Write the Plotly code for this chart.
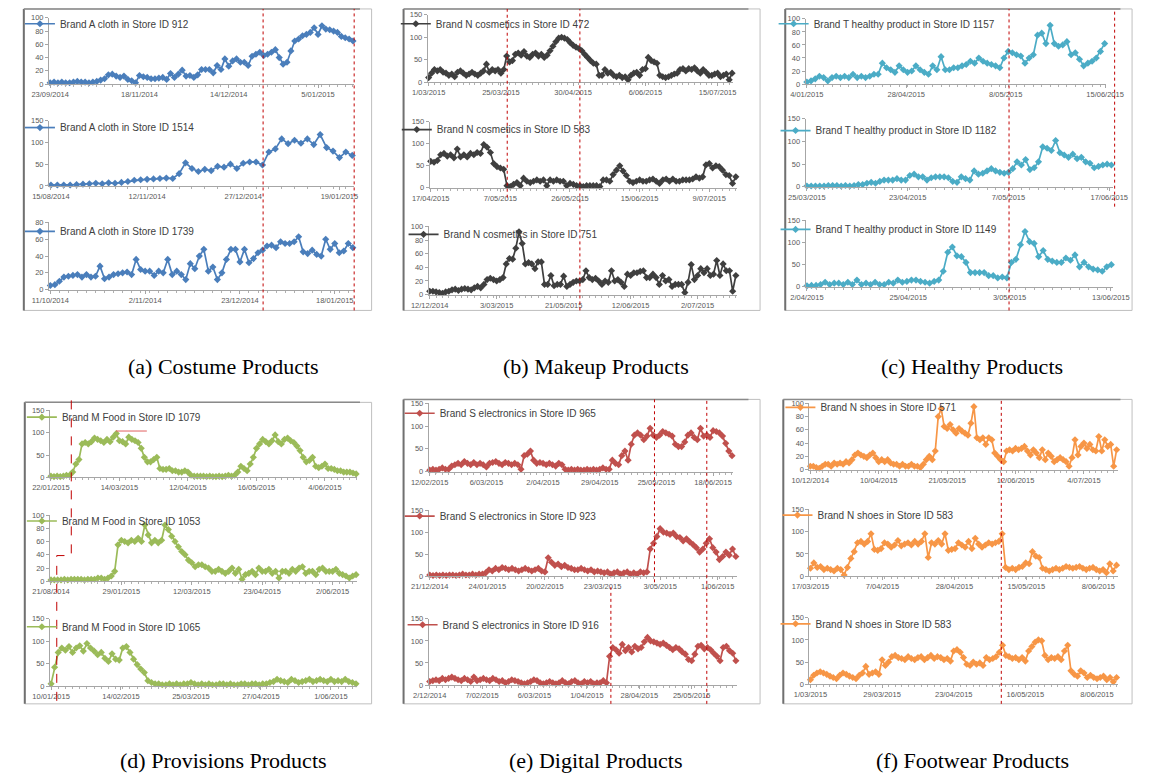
import plotly.graph_objects as go

W, H = 1152, 782

# ---------------- (a) Costume products ----------------
cloth_912 = [2, 3, 2, 3, 2, 2, 3, 4, 3, 3, 2, 3, 4, 6, 8, 14, 15, 12, 10, 12, 7, 5, 2, 13, 11, 10, 8, 8, 9, 10,
             7, 16, 10, 15, 21, 12, 13, 10, 14, 22, 22, 22, 17, 28, 22, 38, 27, 35, 38, 33, 33, 28, 42, 45, 48,
             43, 45, 48, 52, 40, 30, 33, 50, 65, 68, 73, 75, 78, 85, 75, 88, 83, 82, 80, 78, 72, 70, 68, 65]
cloth_912_dates = ["23/09/2014", "18/11/2014", "14/12/2014", "5/01/2015"]

cloth_1514 = [2, 2, 2, 2, 3, 4, 5, 6, 5, 7, 6, 8, 10, 13, 14, 15, 16, 17, 18, 17, 28, 53, 40, 33, 38, 35, 45, 43,
              50, 40, 52, 55, 55, 48, 78, 85, 108, 97, 105, 98, 108, 95, 118, 88, 80, 65, 78, 70]
cloth_1514_dates = ["15/08/2014", "12/11/2014", "27/12/2014", "19/01/2015"]

cloth_1739 = [5, 6, 10, 15, 16, 17, 18, 15, 18, 15, 16, 28, 13, 15, 18, 19, 20, 21, 18, 36, 24, 22, 22, 17, 22, 20,
              36, 18, 22, 18, 12, 31, 25, 40, 48, 22, 27, 12, 20, 36, 48, 48, 33, 48, 32, 37, 44, 47, 52, 53, 50,
              57, 55, 55, 57, 63, 45, 43, 47, 42, 40, 60, 48, 55, 44, 46, 55, 50]
cloth_1739_dates = ["11/10/2014", "2/11/2014", "23/12/2014", "18/01/2015"]

# ---------------- (b) Makeup products ----------------
cosmetics_472 = [10, 20, 28, 25, 28, 22, 20, 15, 18, 12, 22, 25, 20, 15, 18, 22, 18, 15, 20, 25, 40, 22, 28, 25, 28,
                 20, 28, 58, 45, 48, 62, 65, 60, 68, 58, 55, 62, 65, 58, 62, 55, 60, 70, 80, 90, 98, 100, 98, 95,
                 88, 82, 78, 75, 70, 62, 55, 48, 42, 40, 15, 15, 28, 20, 22, 15, 12, 15, 10, 12, 5, 15, 20, 22, 15,
                 28, 30, 55, 48, 45, 42, 15, 12, 10, 12, 15, 18, 20, 28, 30, 25, 30, 28, 32, 25, 20, 28, 22, 15, 15,
                 18, 20, 12, 15, 18, 5, 20]
cosmetics_472_dates = ["1/03/2015", "25/03/2015", "30/04/2015", "6/06/2015", "15/07/2015"]

cosmetics_583 = [60, 58, 62, 75, 78, 72, 75, 68, 88, 70, 75, 70, 78, 75, 80, 78, 98, 92, 80, 55, 48, 45, 42, 5, 3, 8,
                 12, 5, 22, 15, 12, 15, 18, 15, 18, 5, 18, 15, 18, 15, 15, 5, 10, 8, 5, 5, 3, 5, 5, 5, 5, 3, 18, 18,
                 15, 30, 40, 50, 38, 28, 15, 12, 15, 18, 15, 15, 18, 20, 15, 10, 18, 20, 15, 20, 15, 15, 18, 18, 18,
                 20, 25, 22, 25, 52, 55, 45, 50, 48, 40, 30, 28, 10, 25]
cosmetics_583_dates = ["17/04/2015", "7/05/2015", "26/05/2015", "15/06/2015", "9/07/2015"]

cosmetics_751 = [5, 5, 4, 3, 2, 4, 5, 7, 8, 6, 8, 9, 8, 7, 10, 12, 10, 15, 22, 24, 22, 20, 22, 25, 45, 53, 52, 68,
                 92, 75, 45, 47, 45, 38, 48, 48, 15, 15, 28, 13, 15, 15, 27, 12, 15, 18, 20, 20, 22, 35, 25, 22, 24,
                 20, 15, 20, 18, 35, 20, 22, 18, 12, 30, 28, 32, 32, 34, 35, 25, 25, 30, 25, 15, 28, 20, 22, 12, 15,
                 15, 15, 3, 18, 44, 22, 28, 38, 32, 38, 28, 30, 50, 28, 45, 35, 35, 5, 28]
cosmetics_751_dates = ["12/12/2014", "3/03/2015", "21/05/2015", "12/06/2015", "2/07/2015"]

# ---------------- (c) Healthy products ----------------
healthy_1157 = [3, 5, 8, 12, 10, 5, 10, 12, 10, 12, 10, 15, 10, 12, 10, 12, 15, 15, 32, 25, 22, 18, 28, 22, 18, 20,
                28, 22, 18, 15, 28, 22, 42, 22, 22, 25, 25, 28, 30, 35, 32, 40, 35, 32, 30, 28, 25, 40, 50, 48, 45,
                43, 32, 40, 45, 75, 78, 62, 90, 62, 58, 60, 65, 45, 48, 38, 28, 32, 35, 40, 50, 62]
healthy_1157_dates = ["4/01/2015", "28/04/2015", "8/05/2015", "15/06/2015"]

healthy_1182 = [2, 2, 2, 2, 2, 3, 3, 3, 2, 3, 2, 3, 5, 5, 8, 10, 8, 12, 15, 15, 15, 18, 15, 15, 25, 28, 22, 22, 15,
                20, 22, 22, 22, 20, 12, 10, 22, 18, 15, 35, 28, 30, 35, 40, 35, 32, 30, 32, 40, 55, 48, 60, 38, 42,
                55, 88, 85, 80, 102, 75, 70, 65, 72, 62, 65, 55, 52, 42, 45, 48, 50, 48]
healthy_1182_dates = ["25/03/2015", "23/04/2015", "7/05/2015", "17/06/2015"]

healthy_1149 = [2, 3, 3, 5, 10, 5, 8, 8, 5, 10, 5, 15, 5, 8, 5, 10, 5, 5, 10, 8, 15, 10, 12, 15, 15, 12, 10, 8, 12,
                15, 35, 78, 90, 70, 68, 55, 32, 32, 32, 32, 25, 25, 20, 22, 20, 55, 62, 95, 125, 102, 98, 68, 82,
                62, 58, 55, 55, 65, 60, 72, 45, 55, 45, 40, 38, 35, 45, 50]
healthy_1149_dates = ["2/04/2015", "25/04/2015", "3/05/2015", "13/06/2015"]

# ---------------- (d) Provisions products ----------------
food_1079 = [3, 2, 3, 2, 3, 5, 5, 12, 30, 40, 75, 78, 75, 80, 88, 85, 82, 78, 85, 80, 90, 98, 82, 80, 75, 90, 85, 82,
             78, 65, 45, 35, 35, 40, 45, 20, 18, 18, 20, 15, 15, 12, 12, 15, 12, 5, 3, 3, 3, 3, 2, 3, 2, 2, 3, 2, 3,
             5, 3, 5, 12, 25, 20, 15, 30, 45, 65, 75, 85, 80, 75, 82, 95, 80, 75, 85, 88, 82, 78, 70, 60, 45, 35,
             38, 45, 25, 22, 25, 30, 20, 20, 18, 15, 15, 12, 12, 12, 10, 8]
food_1079_dates = ["22/01/2015", "14/03/2015", "12/04/2015", "16/05/2015", "4/06/2015"]

food_1053 = [2, 2, 2, 2, 3, 2, 3, 3, 3, 3, 2, 3, 3, 3, 5, 5, 3, 5, 8, 15, 55, 62, 60, 58, 62, 60, 65, 60, 85, 70, 58,
             62, 58, 62, 85, 78, 68, 60, 52, 45, 40, 32, 28, 22, 25, 25, 22, 20, 15, 15, 18, 15, 12, 15, 20, 12, 18,
             3, 10, 12, 15, 10, 20, 15, 15, 18, 12, 15, 5, 15, 15, 12, 18, 15, 20, 22, 12, 15, 15, 10, 18, 20, 15,
             15, 15, 18, 12, 10, 8, 5, 8, 10]
food_1053_dates = ["21/08/2014", "29/01/2015", "12/03/2015", "23/04/2015", "2/06/2015"]

food_1065 = [5, 42, 75, 85, 80, 88, 75, 85, 90, 78, 95, 85, 78, 70, 75, 62, 55, 72, 60, 58, 85, 88, 75, 60, 48, 38,
             30, 12, 8, 5, 5, 3, 3, 5, 3, 5, 3, 5, 5, 8, 5, 3, 5, 3, 5, 3, 3, 5, 5, 3, 5, 3, 3, 5, 5, 3, 5, 5, 3, 5,
             5, 8, 10, 15, 12, 10, 8, 15, 12, 8, 10, 12, 15, 10, 12, 15, 12, 10, 15, 10, 12, 10, 15, 10, 8, 5]
food_1065_dates = ["10/01/2015", "14/02/2015", "25/03/2015", "27/04/2015", "1/06/2015"]

# ---------------- (e) Digital products ----------------
electronics_965 = [3, 5, 3, 5, 8, 5, 5, 12, 15, 18, 15, 22, 18, 15, 20, 15, 18, 15, 10, 18, 20, 22, 18, 15, 20, 18,
                   15, 18, 15, 5, 35, 38, 45, 25, 18, 20, 18, 15, 18, 15, 12, 18, 15, 5, 3, 5, 3, 5, 3, 3, 5, 3, 5,
                   3, 5, 8, 5, 5, 25, 18, 15, 35, 45, 25, 60, 80, 85, 80, 70, 78, 95, 80, 75, 80, 88, 85, 82, 78, 60,
                   55, 55, 65, 80, 85, 75, 70, 95, 78, 80, 75, 90, 88, 85, 78, 62, 45, 35]
electronics_965_dates = ["12/02/2015", "6/03/2015", "2/04/2015", "29/04/2015", "25/05/2015", "18/06/2015"]

electronics_923 = [3, 2, 3, 2, 3, 2, 3, 3, 2, 3, 5, 3, 3, 5, 3, 5, 5, 8, 15, 12, 18, 15, 20, 18, 15, 18, 15, 12, 15,
                   18, 15, 12, 15, 18, 12, 10, 42, 32, 25, 28, 22, 25, 20, 18, 15, 15, 18, 15, 12, 15, 10, 12, 10,
                   8, 10, 5, 8, 10, 5, 8, 10, 5, 8, 5, 10, 8, 10, 62, 75, 90, 108, 100, 98, 95, 98, 90, 88, 80, 85,
                   78, 72, 65, 55, 62, 75, 85, 65, 55, 38, 45, 55, 48, 62, 45]
electronics_923_dates = ["21/12/2014", "24/01/2015", "20/02/2015", "23/03/2015", "3/05/2015", "1/06/2015"]

electronics_916 = [8, 10, 12, 10, 15, 12, 15, 18, 15, 12, 10, 15, 12, 8, 18, 10, 12, 15, 12, 10, 15, 12, 8, 10, 5, 8,
                   12, 10, 8, 5, 3, 5, 8, 12, 10, 5, 3, 5, 8, 5, 3, 5, 10, 5, 3, 8, 10, 5, 3, 8, 5, 8, 3, 5, 5, 10, 5,
                   65, 85, 80, 72, 92, 78, 85, 75, 88, 82, 85, 98, 108, 100, 98, 95, 92, 95, 90, 85, 80, 85, 82, 75,
                   70, 58, 55, 70, 88, 90, 82, 85, 80, 72, 65, 55, 85, 88, 78, 72, 55]
electronics_916_dates = ["2/12/2014", "7/02/2015", "6/03/2015", "1/04/2015", "28/04/2015", "25/05/2015"]

# ---------------- (f) Footwear products ----------------
shoes_571 = [5, 5, 3, 2, 5, 8, 8, 5, 10, 8, 10, 8, 12, 10, 15, 22, 25, 22, 20, 18, 22, 25, 18, 12, 15, 12, 15, 10, 8,
             8, 5, 8, 5, 5, 8, 5, 5, 3, 8, 15, 20, 15, 28, 80, 92, 65, 62, 68, 60, 55, 62, 58, 55, 52, 70, 95, 48, 45,
             48, 38, 48, 45, 25, 20, 15, 12, 28, 30, 28, 32, 30, 32, 35, 28, 22, 30, 25, 18, 30, 15, 25, 20, 12, 15,
             18, 15, 12, 5, 18, 45, 22, 35, 40, 32, 38, 30, 28, 50, 28, 45, 35, 38, 5, 30]
shoes_571_dates = ["10/12/2014", "10/04/2015", "21/05/2015", "12/06/2015", "4/07/2015"]

shoes_583a = [18, 30, 20, 22, 15, 18, 15, 12, 18, 15, 3, 20, 40, 55, 75, 78, 72, 78, 95, 60, 58, 62, 75, 72, 65, 70,
              80, 68, 72, 75, 70, 78, 72, 78, 95, 42, 75, 72, 80, 72, 95, 58, 60, 62, 75, 70, 65, 78, 62, 85, 72, 65,
              70, 75, 72, 75, 78, 95, 20, 15, 18, 15, 20, 22, 30, 28, 55, 45, 42, 18, 15, 12, 15, 18, 15, 18, 22, 20,
              18, 20, 22, 18, 15, 18, 20, 15, 12, 15, 8, 28, 12, 25]
shoes_583a_dates = ["17/03/2015", "7/04/2015", "28/04/2015", "15/05/2015", "8/06/2015"]

shoes_583b = [10, 20, 25, 28, 25, 22, 18, 15, 12, 20, 25, 22, 18, 15, 12, 20, 25, 40, 22, 25, 28, 22, 55, 42, 50, 62,
              65, 60, 58, 55, 62, 58, 55, 60, 62, 55, 60, 65, 58, 62, 60, 55, 58, 52, 75, 78, 72, 60, 45, 42, 50, 45,
              48, 42, 60, 55, 58, 62, 72, 88, 65, 62, 58, 60, 55, 60, 52, 75, 85, 95, 100, 98, 65, 55, 60, 58, 62,
              55, 75, 88, 30, 22, 18, 30, 25, 15, 20, 15, 12, 15, 18, 10, 15, 5, 15]
shoes_583b_dates = ["1/03/2015", "29/03/2015", "23/04/2015", "16/05/2015", "8/06/2015"]

BLUE, GREY, TEAL = "#4a7ebb", "#3f3f3f", "#4bacc6"
GREEN, RED, ORANGE = "#9bbb59", "#c0504d", "#f79646"

# name, values, date labels, colour, y max, y step, label spacing (points),
# plot box in pixels (left, right, y of zero, y of max), legend text anchor (x, y)
charts = [
    ("Brand A cloth in Store ID 912", cloth_912, cloth_912_dates, BLUE, 100, 20, 23, (32, 347, 81, 14), (57, 20)),
    ("Brand A cloth in Store ID 1514", cloth_1514, cloth_1514_dates, BLUE, 150, 50, 15, (32, 347, 184, 118), (57, 125)),
    ("Brand A cloth in Store ID 1739", cloth_1739, cloth_1739_dates, BLUE, 80, 20, 21, (32, 347, 289, 221), (57, 230)),
    ("Brand N cosmetics in Store ID 472", cosmetics_472, cosmetics_472_dates, GREY, 150, 50, 25, (423, 738, 79, 11), (445, 20)),
    ("Brand N cosmetics in Store ID 583", cosmetics_583, cosmetics_583_dates, GREY, 150, 50, 21, (425, 742, 186, 119), (446, 127)),
    ("Brand N cosmetics in Store ID 751", cosmetics_751, cosmetics_751_dates, GREY, 100, 20, 21, (424, 742, 294, 225), (453, 233)),
    ("Brand T healthy product in Store ID 1157", healthy_1157, healthy_1157_dates, TEAL, 100, 20, 23.7, (813, 1123, 81, 15), (835, 20)),
    ("Brand T healthy product in Store ID 1182", healthy_1182, healthy_1182_dates, TEAL, 150, 50, 23.5, (813, 1130, 185, 116), (837, 128)),
    ("Brand T healthy product in Store ID 1149", healthy_1149, healthy_1149_dates, TEAL, 150, 50, 22.3, (813, 1130, 286, 219), (837, 228)),
    ("Brand M Food in Store ID 1079", food_1079, food_1079_dates, GREEN, 150, 50, 22, (33, 350, 479, 411), (59, 418)),
    ("Brand M Food in Store ID 1053", food_1053, food_1053_dates, GREEN, 100, 20, 21, (33, 350, 584, 517), (59, 523)),
    ("Brand M Food in Store ID 1065", food_1065, food_1065_dates, GREEN, 150, 50, 19.5, (33, 350, 690, 622), (59, 630)),
    ("Brand S electronics in Store ID 965", electronics_965, electronics_965_dates, RED, 150, 50, 18, (424, 738, 473, 404), (449, 414)),
    ("Brand S electronics in Store ID 923", electronics_923, electronics_923_dates, RED, 150, 50, 17.5, (424, 742, 579, 512), (449, 518)),
    ("Brand S electronics in Store ID 916", electronics_916, electronics_916_dates, RED, 150, 50, 16.6, (424, 742, 689, 622), (452, 628)),
    ("Brand N shoes in Store ID 571", shoes_571, shoes_571_dates, ORANGE, 100, 20, 23, (817, 1135, 471, 404), (842, 408)),
    ("Brand N shoes in Store ID 583", shoes_583a, shoes_583a_dates, ORANGE, 150, 50, 21.4, (817, 1135, 579, 511), (839, 517)),
    ("Brand N shoes in Store ID 583", shoes_583b, shoes_583b_dates, ORANGE, 150, 50, 22, (817, 1135, 688, 621), (837, 627)),
]

captions = ["(a) Costume Products", "(b) Makeup Products", "(c) Healthy Products",
            "(d) Provisions Products", "(e) Digital Products", "(f) Footwear Products"]


def px(x):
    return x / W


def py(y):
    return 1 - y / H


fig = go.Figure()
layout = dict(width=W, height=H, margin=dict(l=0, r=0, t=0, b=0),
              paper_bgcolor="white", plot_bgcolor="white", showlegend=True)

AXIS_COL = "#a6a6a6"
TICK_FONT = dict(family="Liberation Sans", size=7.5, color="#595959")

for i, (name, vals, dates, col, ymax, ystep, every, box, leg) in enumerate(charts, start=1):
    sfx = "" if i == 1 else str(i)
    n = len(vals)
    left, right, y0, ytop = box
    legend_id = "legend" + sfx
    fig.add_trace(go.Scatter(
        x=list(range(n)), y=vals, name=name, mode="lines+markers",
        line=dict(color=col, width=1.7),
        marker=dict(symbol="diamond", size=5.5, color=col),
        xaxis="x" + sfx, yaxis="y" + sfx, legend=legend_id, cliponaxis=False,
        hoverinfo="skip",
    ))
    layout["xaxis" + sfx] = dict(
        domain=[px(left), px(right)], anchor="y" + sfx, range=[-0.3, n - 0.7],
        tickmode="array", tickvals=[k * every for k in range(len(dates))], ticktext=dates,
        showline=True, linecolor=AXIS_COL, linewidth=1, ticks="outside", ticklen=3,
        tickcolor=AXIS_COL, showgrid=False, zeroline=False, tickfont=TICK_FONT,
        minor=dict(ticks="outside", tick0=0, dtick=2, ticklen=2, tickcolor="#b0b0b0"),
    )
    layout["yaxis" + sfx] = dict(
        domain=[py(y0), py(ytop)], anchor="x" + sfx, range=[0, ymax], dtick=ystep,
        showline=True, linecolor=AXIS_COL, linewidth=1, ticks="outside", ticklen=3,
        tickcolor=AXIS_COL, showgrid=False, zeroline=False, tickfont=TICK_FONT,
    )
    layout[legend_id] = dict(
        x=px(leg[0] - 55), y=py(leg[1]), xanchor="left", yanchor="middle",
        bgcolor="rgba(0,0,0,0)", borderwidth=0, itemwidth=30,
        font=dict(family="Liberation Sans", size=10, color="#404040"),
    )

# panel frames
frames = [(6, 365, 5, 310), (398, 766, 5, 310), (792, 1150, 5, 310),
          (7, 365, 403, 708), (398, 766, 400, 708), (790, 1150, 400, 708)]
shapes = []
for (l, r, t, b) in frames:
    shapes.append(dict(type="rect", xref="paper", yref="paper", x0=px(l), x1=px(r), y0=py(b), y1=py(t),
                       line=dict(color="#bfbfbf", width=1), layer="below"))
    shapes.append(dict(type="line", xref="paper", yref="paper", x0=px(l), x1=px(l), y0=py(b), y1=py(t),
                       line=dict(color="#707070", width=2)))
    shapes.append(dict(type="line", xref="paper", yref="paper", x0=px(l), x1=px(r - 12), y0=py(t), y1=py(t),
                       line=dict(color="#8a8a8a", width=1.5)))

# dotted change-point markers drawn over the panels
RED_LINE = dict(color="#c00000", width=1, dash="dot")
markers = [(253, 5, 310), (347, 5, 310), (505, 5, 196), (580, 5, 310), (1023, 5, 310), (1132, 5, 205),
           (657, 400, 585), (711, 400, 708), (612, 590, 708), (1015, 400, 708)]
for (x, t, b) in markers:
    shapes.append(dict(type="line", xref="paper", yref="paper", x0=px(x), x1=px(x), y0=py(b), y1=py(t),
                       line=RED_LINE))
shapes.append(dict(type="path", xref="paper", yref="paper",
                   path=f"M {px(55)},{py(401)} L {px(55)},{py(558)} L {px(40)},{py(558)} L {px(40)},{py(708)}",
                   line=dict(color="#c00000", width=1, dash="dash")))
shapes.append(dict(type="line", xref="paper", yref="paper", x0=px(101), x1=px(133), y0=py(432), y1=py(432),
                   line=dict(color="#e06060", width=1)))
layout["shapes"] = shapes

cap_pos = [(212, 367), (597, 367), (985, 367), (212, 765), (597, 765), (985, 765)]
layout["annotations"] = [
    dict(text=c, x=px(x), y=py(y), xref="paper", yref="paper", showarrow=False,
         xanchor="center", yanchor="middle",
         font=dict(family="Liberation Serif", size=22, color="black"))
    for c, (x, y) in zip(captions, cap_pos)
]

fig.update_layout(**layout)
fig.write_html("out.html")
